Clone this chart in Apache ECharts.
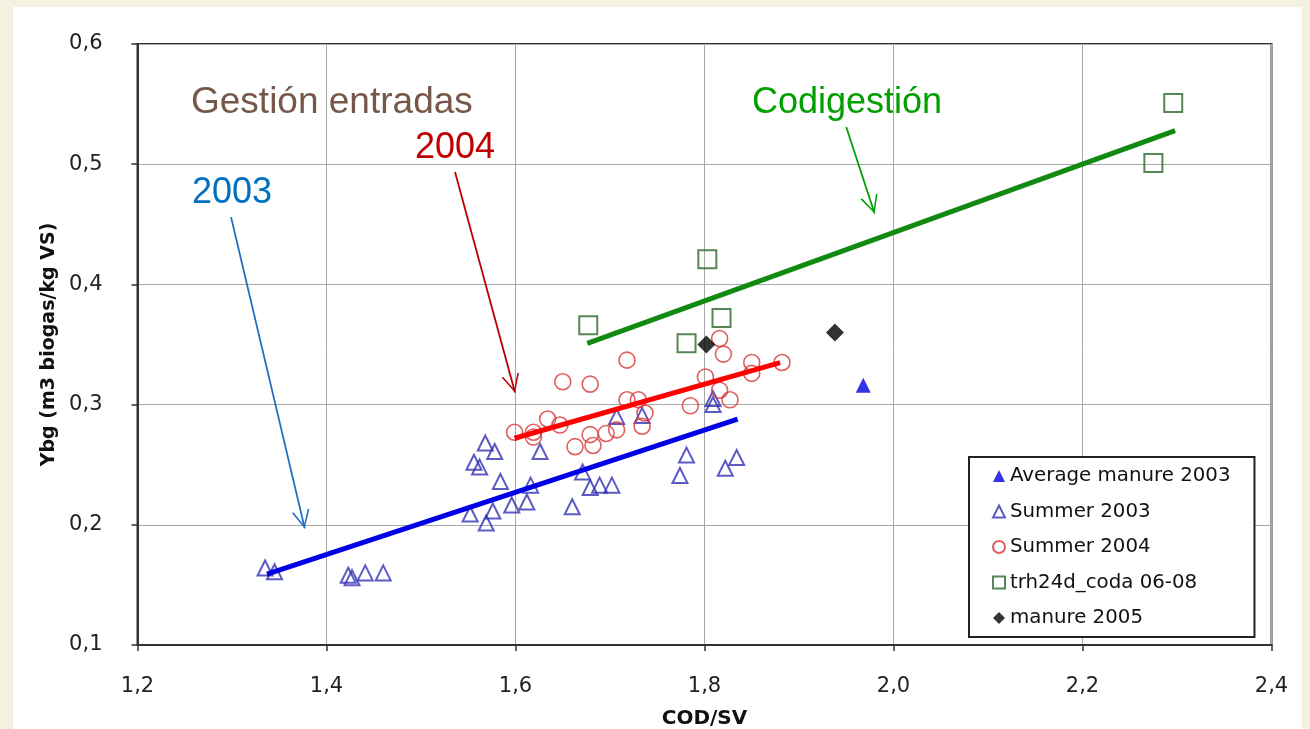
<!DOCTYPE html>
<html><head><meta charset="utf-8">
<script src="https://cdn.jsdelivr.net/npm/echarts@6/dist/echarts.min.js"></script>
<style>
html,body{margin:0;padding:0;background:#F3F1E0;overflow:hidden;}
#panel{position:absolute;left:13px;top:7px;width:1289px;height:722px;background:#fff;}
#chart{position:absolute;left:0;top:0;width:1310px;height:729px;}
</style></head><body><div id="panel"></div><div id="chart"></div>
<script>
// ---- data (COD/SV, Ybg) ----
const averageManure2003 = [[1.968, 0.316]];
const summer2003 = [
  [1.335,0.164],[1.345,0.161],[1.423,0.158],[1.427,0.156],[1.441,0.160],[1.460,0.160],
  [1.568,0.268],[1.578,0.261],[1.556,0.252],[1.562,0.248],[1.584,0.236],[1.616,0.233],
  [1.626,0.261],[1.612,0.219],[1.596,0.2165],[1.576,0.2115],[1.552,0.209],[1.569,0.2015],
  [1.671,0.244],[1.679,0.231],[1.689,0.233],[1.702,0.233],[1.660,0.215],[1.707,0.290],
  [1.734,0.291],[1.781,0.258],[1.774,0.241],[1.809,0.305],[1.809,0.300],[1.822,0.247],[1.834,0.256]
];
const summer2004 = [
  [1.599,0.277],[1.619,0.277],[1.619,0.273],[1.634,0.288],[1.647,0.283],[1.650,0.319],
  [1.679,0.317],[1.718,0.337],[1.663,0.265],[1.679,0.275],[1.682,0.266],[1.696,0.276],
  [1.707,0.279],[1.718,0.304],[1.730,0.304],[1.737,0.293],[1.734,0.282],[1.785,0.299],
  [1.801,0.323],[1.816,0.312],[1.827,0.304],[1.816,0.355],[1.820,0.342],[1.850,0.335],
  [1.850,0.326],[1.882,0.335]
];
const trh24dCoda = [[1.677,0.366],[1.781,0.351],[1.803,0.421],[1.818,0.372],[2.275,0.501],[2.296,0.551]];
const manure2005 = [[1.802,0.350],[1.938,0.360]];
// trend lines (endpoints)
const trend2003 = [[1.337,0.159],[1.835,0.288]];
const trend2004 = [[1.599,0.272],[1.880,0.335]];
const trendCodig = [[1.676,0.351],[2.298,0.528]];
// annotation arrows (start, tip) in data space
const arrow2003 = [[1.299,0.456],[1.377,0.197]];
const arrow2004 = [[1.536,0.4935],[1.5995,0.310]];
const arrowCodig = [[1.950,0.531],[1.980,0.459]];
// axes
const xMin = 1.2, xMax = 2.4, xStep = 0.2;
const yMin = 0.1, yMax = 0.6, yStep = 0.1;
const legendNames = ['Average manure 2003','Summer 2003','Summer 2004','trh24d_coda 06-08','manure 2005'];

const fmt = v => v.toFixed(1).replace('.', ',');
const arrowHead = 'path://M10,0 L10.01,0 L10,0.01 Z M10,20 L20,40 L18,40 L10,23.5 L2,40 L0,40 Z';

const chart = echarts.init(document.getElementById('chart'));
const hollow = (c, w) => ({color: 'rgba(255,255,255,0)', borderColor: c, borderWidth: w});
function arrowLine(pts, color) {
  return {
    data: [[{coord: pts[0]}, {coord: pts[1]}]],
    symbol: ['none', arrowHead], symbolSize: [18, 36],
    silent: true, label: {show: false},
    lineStyle: {color: color, width: 1.8, type: 'solid'},
    emphasis: {disabled: true}
  };
}
chart.setOption({
  backgroundColor: 'transparent',
  animation: false,
  grid: {left: 137.5, right: 38.5, top: 44, bottom: 84, show: true, borderColor: '#333', borderWidth: 2,
         backgroundColor: '#fff', containLabel: false, outerBoundsMode: 'none'},
  xAxis: {
    type: 'value', min: xMin, max: xMax, interval: xStep,
    name: 'COD/SV', nameLocation: 'middle', nameGap: 64,
    nameTextStyle: {fontFamily: 'DejaVu Sans', fontWeight: 'bold', fontSize: 20, color: '#111'},
    axisLine: {lineStyle: {color: '#333', width: 2}},
    axisTick: {show: true, length: 6, lineStyle: {color: '#333', width: 1.5}},
    axisLabel: {formatter: fmt, fontFamily: 'DejaVu Sans', fontSize: 21, color: '#222', margin: 31},
    splitLine: {lineStyle: {color: '#A8A8A8', width: 1}}
  },
  yAxis: {
    type: 'value', min: yMin, max: yMax, interval: yStep,
    name: 'Ybg (m3 biogas/kg VS)', nameLocation: 'middle', nameGap: 77,
    nameTextStyle: {fontFamily: 'DejaVu Sans', fontWeight: 'bold', fontSize: 19, color: '#111'},
    axisLine: {lineStyle: {color: '#333', width: 2}},
    axisTick: {show: true, length: 6, lineStyle: {color: '#333', width: 1.5}},
    axisLabel: {formatter: fmt, fontFamily: 'DejaVu Sans', fontSize: 21, color: '#222', margin: 35},
    splitLine: {lineStyle: {color: '#A8A8A8', width: 1}}
  },
  legend: {
    data: legendNames, orient: 'vertical', left: 969, top: 457,
    padding: [9, 24, 9, 23], itemGap: 15.5, itemWidth: 12, itemHeight: 12,
    backgroundColor: '#fff', borderColor: '#222', borderWidth: 2, borderRadius: 0,
    selectedMode: false,
    textStyle: {fontFamily: 'DejaVu Sans', fontSize: 19.8, color: '#111', lineHeight: 20}
  },
  graphic: [
    {type: 'text', left: 191, top: 84, style: {text: 'Gestión entradas', font: '37px "Liberation Sans"', fill: '#76574A'}},
    {type: 'text', left: 415, top: 130, style: {text: '2004', font: '36px "Liberation Sans"', fill: '#C00000'}},
    {type: 'text', left: 192, top: 175, style: {text: '2003', font: '36px "Liberation Sans"', fill: '#0070C0'}},
    {type: 'text', left: 752, top: 85, style: {text: 'Codigestión', font: '36px "Liberation Sans"', fill: '#00A000'}}
  ],
  series: [
    {name: 'Summer 2003', type: 'scatter', data: summer2003, symbol: 'triangle', symbolSize: 15,
     itemStyle: hollow('#3232B4', 2), z: 3},
    {name: 'Summer 2004', type: 'scatter', data: summer2004, symbol: 'circle', symbolSize: 16,
     itemStyle: hollow('#DA3636', 1.6), z: 3},
    {name: 'trh24d_coda 06-08', type: 'scatter', data: trh24dCoda, symbol: 'rect', symbolSize: 18,
     itemStyle: hollow('#2A682A', 2), z: 3},
    {name: 'Average manure 2003', type: 'scatter', data: averageManure2003, symbol: 'triangle', symbolSize: 15,
     itemStyle: {color: '#0000E0'}, z: 3},
    {name: 'manure 2005', type: 'scatter', data: manure2005, symbol: 'diamond', symbolSize: 18,
     itemStyle: {color: '#000'}, z: 3},
    {name: 'trend2003', type: 'line', data: trend2003, showSymbol: false, symbol: 'none',
     lineStyle: {color: '#0000E6', width: 5}, z: 5, silent: true},
    {name: 'trend2004', type: 'line', data: trend2004, showSymbol: false, symbol: 'none',
     lineStyle: {color: '#FF0000', width: 5}, z: 5, silent: true},
    {name: 'trendCodig', type: 'line', data: trendCodig, showSymbol: false, symbol: 'none',
     lineStyle: {color: '#128A12', width: 5}, z: 5, silent: true},
    {name: 'arrows', type: 'line', data: [], z: 6,
     markLine: arrowLine(arrow2003, '#1F6FC4')},
    {name: 'arrows2', type: 'line', data: [], z: 6,
     markLine: arrowLine(arrow2004, '#C00000')},
    {name: 'arrows3', type: 'line', data: [], z: 6,
     markLine: arrowLine(arrowCodig, '#00A000')}
  ]
});
</script></body></html>
